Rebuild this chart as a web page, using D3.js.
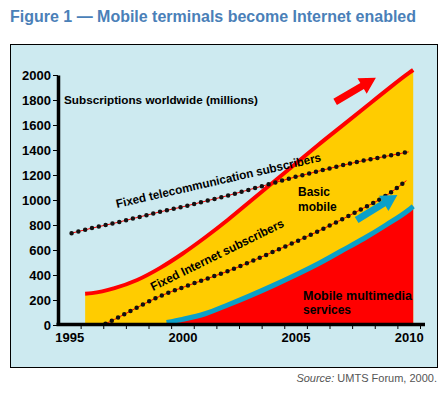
<!DOCTYPE html>
<html>
<head>
<meta charset="utf-8">
<script src="https://cdn.jsdelivr.net/npm/d3@7"></script>
<style>
  body { margin: 0; background: #fff; }
  text { font-family: "Liberation Sans", Arial, sans-serif; }
</style>
</head>
<body>
<div id="chart"></div>
<script>
// Basic mobile (top of yellow area)
const basicYears = [1995.7, 1996, 1997, 1998, 1999, 2000, 2001, 2002, 2003, 2004, 2005, 2006, 2007, 2008, 2009, 2010, 2010.2];
const basicMobile = [250, 255, 295, 360, 455, 570, 700, 840, 990, 1140, 1290, 1440, 1585, 1730, 1875, 2015, 2040];
// Mobile multimedia services (top of red area)
const mmYears = [1999.3, 2000, 2001, 2002, 2003, 2004, 2005, 2006, 2007, 2008, 2009, 2010, 2010.2];
const multimedia = [20, 45, 90, 160, 235, 315, 400, 490, 590, 690, 800, 920, 950];
// Fixed telecommunication subscribers (dotted)
const telecomYears = [1995.1, 1996, 1997, 1998, 1999, 2000, 2001, 2002, 2003, 2004, 2005, 2006, 2007, 2008, 2009, 2010];
const telecom = [735, 775, 815, 860, 905, 945, 990, 1035, 1085, 1135, 1185, 1230, 1275, 1315, 1350, 1385];
// Fixed Internet subscribers (dotted)
const internetYears = [1996.6, 1997, 1998, 1999, 2000, 2001, 2002, 2003, 2004, 2005, 2006, 2007, 2008, 2009, 2009.9];
const internet = [10, 45, 140, 230, 300, 365, 430, 505, 585, 665, 750, 840, 935, 1035, 1155];
// axis ticks
const yTicks = [0, 200, 400, 600, 800, 1000, 1200, 1400, 1600, 1800, 2000];
const xLabels = [1995, 2000, 2005, 2010];
const xTickMarks = d3.range(1995.5, 2011, 1);
// arrows [tail year, tail value, tip year, tip value]
const redArrow = [2006.75, 1785, 2008.55, 1978];
const blueArrow = [2007.7, 840, 2009.5, 1040];

const W = 448, H = 396;
const svg = d3.select("#chart").append("svg")
    .attr("width", W).attr("height", H);

svg.append("text")
    .attr("x", 10).attr("y", 22)
    .attr("fill", "#4a80b8")
    .attr("font-size", 16).attr("font-weight", "bold")
    .attr("textLength", 406).attr("lengthAdjust", "spacingAndGlyphs")
    .text("Figure 1 \u2014 Mobile terminals become Internet enabled");

// panel
svg.append("rect")
    .attr("x", 10.5).attr("y", 44.5).attr("width", 427).attr("height", 323)
    .attr("fill", "#cdeaf0").attr("stroke", "#000").attr("stroke-width", 1);

const x = d3.scaleLinear().domain([1994.5, 2010.5]).range([58, 420]);
const y = d3.scaleLinear().domain([0, 2000]).range([325, 75]);

const zip = (xs, vs) => xs.map((yr, i) => ({ year: yr, v: vs[i] }));
const basic = zip(basicYears, basicMobile);
const mm = zip(mmYears, multimedia);
const tel = zip(telecomYears, telecom);
const inet = zip(internetYears, internet);

const area = d3.area()
    .x(d => x(d.year)).y0(y(0)).y1(d => y(d.v))
    .curve(d3.curveMonotoneX);
const line = d3.line()
    .x(d => x(d.year)).y(d => y(d.v))
    .curve(d3.curveMonotoneX);

const plot = svg.append("g");

plot.append("path").attr("d", area(basic)).attr("fill", "#ffcc00");
plot.append("path").attr("d", area(mm)).attr("fill", "#ff0000");
plot.append("path").attr("d", line(basic))
    .attr("fill", "none").attr("stroke", "#ff0000").attr("stroke-width", 4);
plot.append("path").attr("d", line(mm))
    .attr("fill", "none").attr("stroke", "#0aa0c8").attr("stroke-width", 5);

// dotted lines: thin red line with black dots
[tel, inet].forEach(s => {
    plot.append("path").attr("d", line(s))
        .attr("fill", "none").attr("stroke", "#ff0000").attr("stroke-width", 1);
    plot.append("path").attr("d", line(s))
        .attr("fill", "none").attr("stroke", "#111")
        .attr("stroke-width", 4.5).attr("stroke-linecap", "round")
        .attr("stroke-dasharray", "0,7");
});

// block arrows
const arrow = (a, color) => {
    const x0 = x(a[0]), y0 = y(a[1]), x1 = x(a[2]), y1 = y(a[3]);
    const ang = Math.atan2(y1 - y0, x1 - x0);
    const len = Math.hypot(x1 - x0, y1 - y0);
    const sw = 3.5, hw = 9, hl = 16;
    const pts = [[0, -sw], [len - hl, -sw], [len - hl, -hw], [len, 0],
                 [len - hl, hw], [len - hl, sw], [0, sw]];
    plot.append("polygon")
        .attr("points", pts.map(p => p.join(",")).join(" "))
        .attr("transform", `translate(${x0},${y0}) rotate(${ang * 180 / Math.PI})`)
        .attr("fill", color);
};
arrow(redArrow, "#ff0000");
arrow(blueArrow, "#0aa0c8");

// axes
const yAxis = svg.append("g")
    .attr("transform", "translate(58,0)")
    .call(d3.axisLeft(y).tickValues(yTicks).tickSize(5).tickPadding(2)
        .tickSizeOuter(0).tickFormat(d3.format("d")));
yAxis.select(".domain").attr("stroke-width", 3.5);
yAxis.selectAll("text").attr("font-size", 13).attr("font-weight", "bold").attr("fill", "#000");

const xAxis = svg.append("g")
    .attr("transform", "translate(0,324)")
    .call(d3.axisBottom(x).tickValues(xTickMarks).tickSize(5).tickFormat("").tickSizeOuter(0));
xAxis.select(".domain").attr("d", "M56.5,0.5H425").attr("stroke-width", 3.5);

svg.append("g")
    .attr("transform", "translate(0,324)")
    .call(d3.axisBottom(x).tickValues(xLabels).tickSize(0).tickPadding(9).tickFormat(d3.format("d")))
    .call(g => g.select(".domain").remove())
    .selectAll("text").attr("font-size", 13).attr("font-weight", "bold").attr("fill", "#000");

// labels
const lab = (tx, ty, str, size, rot, len) => {
    const t = plot.append("text")
        .attr("transform", `translate(${tx},${ty}) rotate(${rot || 0})`)
        .attr("font-size", size).attr("font-weight", "bold").attr("fill", "#000")
        .text(str);
    if (len) t.attr("textLength", len).attr("lengthAdjust", "spacingAndGlyphs");
    return t;
};
lab(64, 104, "Subscriptions worldwide (millions)", 11.5, 0, 194);
lab(117, 208, "Fixed telecommunication subscribers", 12, -12.9, 210);
lab(153, 291, "Fixed Internet subscribers", 12, -26.2, 147);
lab(298, 196, "Basic", 12);
lab(298, 211, "mobile", 12);
lab(303, 300, "Mobile multimedia", 12, 0, 109);
lab(303, 314, "services", 12);

// source
const src = svg.append("text")
    .attr("x", 437).attr("y", 382).attr("text-anchor", "end")
    .attr("font-size", 11).attr("fill", "#555");
src.append("tspan").attr("font-style", "italic").text("Source:");
src.append("tspan").text(" UMTS Forum, 2000.");
</script>
</body>
</html>
